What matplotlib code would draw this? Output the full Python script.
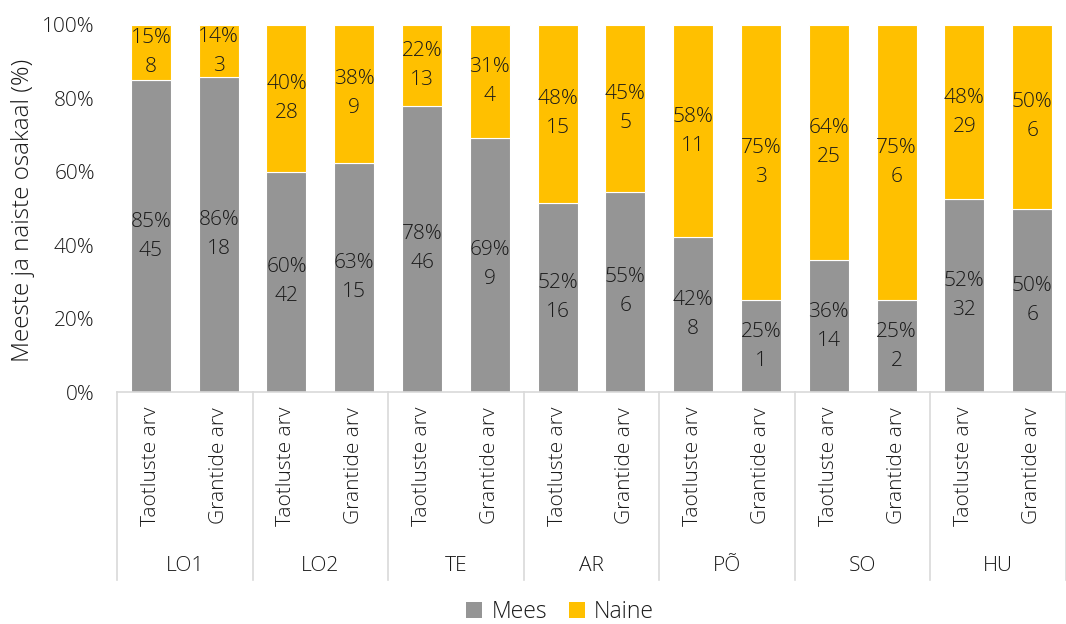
import matplotlib
matplotlib.use("Agg")
import matplotlib.pyplot as plt
import matplotlib.transforms as mtransforms
from matplotlib.patches import Patch

groups = ["LO1", "LO2", "TE", "AR", "PÕ", "SO", "HU"]
subcats = ["Taotluste arv", "Grantide arv"]
mees_counts = [45, 18, 42, 15, 46, 9, 16, 6, 8, 1, 14, 2, 32, 6]
naine_counts = [8, 3, 28, 9, 13, 4, 15, 5, 11, 3, 25, 6, 29, 6]
mees_pct_labels = ["85%", "86%", "60%", "63%", "78%", "69%", "52%", "55%", "42%", "25%", "36%", "25%", "52%", "50%"]
naine_pct_labels = ["15%", "14%", "40%", "38%", "22%", "31%", "48%", "45%", "58%", "75%", "64%", "75%", "48%", "50%"]
yticks = [0, 20, 40, 60, 80, 100]
ytick_labels = ["0%", "20%", "40%", "60%", "80%", "100%"]

GREY = "#959595"
YELLOW = "#FFC000"
TXT = "#1A1A1A"
LINE = "#D9D9D9"
FONT = "Open Sans"
FS = 15
WT = "light"

plt.rcParams["font.family"] = [FONT, "DejaVu Sans"]
plt.rcParams["font.weight"] = WT

W, H = 1066, 624
fig = plt.figure(figsize=(W / 100, H / 100), dpi=100)
ax_l, ax_r, ax_t, ax_b = 117, 1066, 25, 392
ax = fig.add_axes([ax_l / W, 1 - ax_b / H, (ax_r - ax_l) / W, (ax_b - ax_t) / H])

n = len(mees_counts)
x = list(range(n))
totals = [m + f for m, f in zip(mees_counts, naine_counts)]
mees_h = [100 * m / t for m, t in zip(mees_counts, totals)]
naine_h = [100 * f / t for f, t in zip(naine_counts, totals)]

bw = 0.59
ax.bar(x, mees_h, width=bw, color=GREY, edgecolor="white", linewidth=0.8, zorder=2)
ax.bar(x, naine_h, width=bw, bottom=mees_h, color=YELLOW, edgecolor="white", linewidth=0.8, zorder=2)

for i in range(n):
    ax.text(x[i], mees_h[i] / 2, f"{mees_pct_labels[i]}\n{mees_counts[i]}", ha="center", va="center",
            fontsize=FS, color=TXT, linespacing=1.6, zorder=3, fontweight=WT)
    ax.text(x[i], mees_h[i] + naine_h[i] / 2, f"{naine_pct_labels[i]}\n{naine_counts[i]}", ha="center", va="center",
            fontsize=FS, color=TXT, linespacing=1.6, zorder=3, fontweight=WT)

ax.set_xlim(-0.5, n - 0.5)
ax.set_ylim(0, 100)
ax.set_yticks(yticks)
ax.set_yticklabels(ytick_labels, fontsize=FS, color=TXT, fontweight=WT)
ax.tick_params(axis="y", length=0, pad=16)
ax.set_xticks([])
for s in ["top", "right", "left"]:
    ax.spines[s].set_visible(False)
ax.spines["bottom"].set_color(LINE)
ax.spines["bottom"].set_linewidth(1.2)

fig.text(23 / W, 1 - 210 / H, "Meeste ja naiste osakaal (%)", rotation=90, ha="center", va="center",
         fontsize=17.5, color=TXT, fontweight=WT)

def yfrac(py):
    return (ax_b - py) / (ax_b - ax_t)

trans = mtransforms.blended_transform_factory(ax.transData, ax.transAxes)
for g in range(len(groups) + 1):
    xb = -0.5 + 2 * g
    ax.plot([xb, xb], [0, yfrac(580)], transform=trans, color=LINE, lw=1.2, clip_on=False)
for i in range(n):
    ax.text(x[i], yfrac(407), subcats[i % 2], transform=trans, rotation=90, ha="center", va="top",
            fontsize=FS, color=TXT, fontweight=WT)
for g, name in enumerate(groups):
    ax.text(2 * g + 0.5, yfrac(566), name, transform=trans, ha="center", va="center", fontsize=FS,
            color=TXT, fontweight=WT)

handles = [Patch(facecolor=GREY, label="Mees"), Patch(facecolor=YELLOW, label="Naine")]
fig.legend(handles=handles, loc="center", bbox_to_anchor=(560 / W, 1 - 612 / H), ncol=2, frameon=False,
           prop={"size": 16.5, "weight": WT}, handlelength=0.7, handleheight=0.7, handletextpad=0.4,
           columnspacing=0.95, labelcolor=TXT)

fig.savefig("out.png", dpi=100)
